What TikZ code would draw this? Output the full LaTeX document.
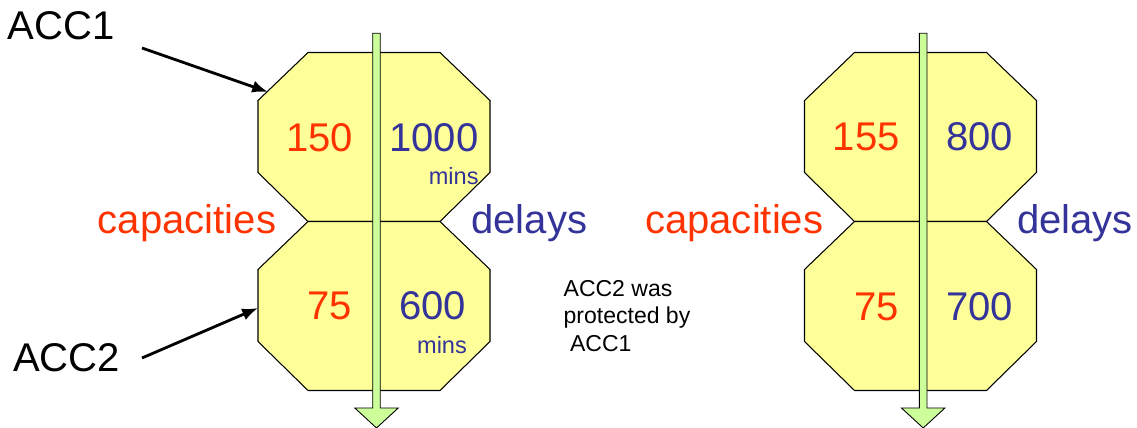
\documentclass[tikz,border=0pt]{standalone}
\usepackage{fontspec}
\setmainfont{Liberation Sans}
\usetikzlibrary{arrows.meta}
\definecolor{capred}{HTML}{FF3300}
\definecolor{delayblue}{HTML}{333399}
\definecolor{octfill}{HTML}{FFFF99}
\definecolor{flowgreen}{HTML}{CCFF99}
\def\octagon(#1,#2){\draw[octa] ({#1+50},#2) -- ({#1+182},#2) -- ({#1+232},{#2+48}) -- ({#1+232},{#2+120}) -- ({#1+182},{#2+169}) -- ({#1+50},{#2+169}) -- (#1,{#2+120}) -- (#1,{#2+48}) -- cycle;}
\def\flowarrow(#1){\draw[flow] ({#1-3.8},33.3) -- ({#1+3.8},33.3) -- ({#1+3.8},408) -- ({#1+21.7},408) -- (#1,428) -- ({#1-21.7},408) -- ({#1-3.8},408) -- cycle;}

\begin{document}
\begin{tikzpicture}[x=0.02cm,y=-0.02cm,
	octa/.style={draw=black,line width=0.6pt,fill=octfill},
	flow/.style={draw=black,line width=0.5pt,fill=flowgreen},
	bigtext/.style={inner sep=0,anchor=base,font=\fontsize{22.8}{27}\selectfont},
	captext/.style={bigtext,text=capred},
	delaytext/.style={bigtext,text=delayblue},
	unittext/.style={inner sep=0,anchor=base,text=delayblue,font=\fontsize{13.4}{16}\selectfont},
	pointer/.style={line width=1.6pt,-{Latex[length=9pt,width=7pt]}}]
	%%%%% START %%%%%
	
	\useasboundingbox (0,0) rectangle (1137,428);
	
	% left pair: before
	\octagon(258,52.5)
	\octagon(258,221.5)
	\flowarrow(376.5)
	
	\node[bigtext] (acc1) at (61.3,40) {ACC1};
	\node[bigtext] (acc2) at (66.7,371.7) {ACC2};
	\coordinate (acc1from) at (142,48);
	\coordinate (acc1to) at (268,92);
	\coordinate (acc2from) at (142,358);
	\coordinate (acc2to) at (258,308);
	\draw[pointer] (acc1from) -- (acc1to);
	\draw[pointer] (acc2from) -- (acc2to);
	
	\node[captext] (capleft) at (187,233.3) {capacities};
	\node[delaytext] (delleft) at (529.2,233.3) {delays};
	\node[captext] (capa) at (319.7,151.7) {150};
	\node[delaytext] (dela) at (434,151.7) {1000};
	\node[unittext] (unita) at (453.7,185) {mins};
	\node[captext] (capb) at (330,320) {75};
	\node[delaytext] (delb) at (432.7,320) {600};
	\node[unittext] (unitb) at (442,353.3) {mins};
	
	% base of a multi-line node sits on its last line
	\node[inner sep=0,anchor=base west,align=left,font=\fontsize{13.1}{15.8}\selectfont] (note) at (563.3,351.7) {ACC2 was\\protected by\\\ ACC1};
	
	% right pair: after
	\octagon(804.5,52.5)
	\octagon(804.5,221.5)
	\flowarrow(923.2)
	
	\node[captext] (capright) at (734.2,233.3) {capacities};
	\node[delaytext] (delright) at (1075,233.3) {delays};
	\node[captext] (capc) at (866.3,151) {155};
	\node[delaytext] (delc) at (979.5,151) {800};
	\node[captext] (capd) at (876.7,321) {75};
	\node[delaytext] (deld) at (979.5,321) {700};
	
	%%%%% END %%%%%
\end{tikzpicture}
\end{document}
